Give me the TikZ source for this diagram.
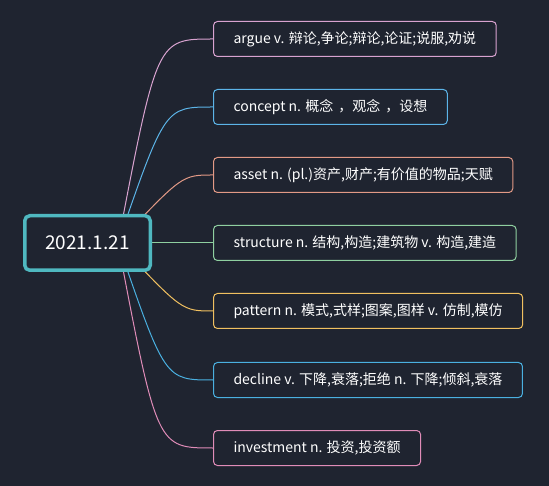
\documentclass[tikz,border=0pt]{standalone}
\usepackage{fontspec}
\setmainfont{Noto Sans CJK SC}
\usepackage{tikz}
\usetikzlibrary{positioning}
\definecolor{bg}{HTML}{1F2430}
\definecolor{cargue}{HTML}{D9A3D0}
\definecolor{cconcept}{HTML}{5CB4E8}
\definecolor{casset}{HTML}{E39A86}
\definecolor{cstruct}{HTML}{8FD0A0}
\definecolor{cpattern}{HTML}{F0C060}
\definecolor{cdecline}{HTML}{4AB0E0}
\definecolor{cinvest}{HTML}{E08CB8}
\definecolor{croot}{HTML}{4FB8C0}

\begin{document}
\begin{tikzpicture}[x=1pt,y=-1pt,
                    word/.style={draw,fill=bg,rounded corners=4pt,anchor=west,line width=1pt,
                                 minimum height=35pt,inner xsep=20pt,text=white,
                                 font=\fontsize{14}{16}\selectfont},
                    root/.style={draw=croot,fill=bg,rounded corners=5pt,line width=3.5pt,
                                 minimum width=125.5pt,minimum height=54.5pt,text=white,
                                 font=\fontsize{19}{22}\selectfont},
                    branch/.style={line width=1pt}]
  \fill[bg] (0,0) rectangle (549,486);
  \useasboundingbox (0,0) rectangle (549,486);
  \node[word,draw=cargue]   (argue)     at (213,39)  {argue v. 辩论,争论;辩论,论证;说服,劝说};
  \node[word,draw=cconcept] (concept)   at (213,107) {concept n. 概念\hspace{5pt}，观念\hspace{5pt}，设想};
  \node[word,draw=casset]   (asset)     at (213,175) {asset n. (pl.)资产,财产;有价值的物品;天赋};
  \node[word,draw=cstruct]  (structure) at (213,243) {structure n. 结构,构造;建筑物 v. 构造,建造};
  \node[word,draw=cpattern] (pattern)   at (213,311) {pattern n. 模式,式样;图案,图样 v. 仿制,模仿};
  \node[word,draw=cdecline] (decline)   at (213,380) {decline v. 下降,衰落;拒绝 n. 下降;倾斜,衰落};
  \node[word,draw=cinvest]  (invest)    at (213,448) {investment n. 投资,投资额};
  \coordinate (hub) at (118,243);
  \draw[branch,cargue]   (hub) .. controls (157,39)  .. (argue.west);
  \draw[branch,cconcept] (hub) .. controls (165,107) .. (concept.west);
  \draw[branch,casset]   (hub) .. controls (182,175) .. (asset.west);
  \draw[branch,cstruct]  (hub) -- (structure.west);
  \draw[branch,cpattern] (hub) .. controls (182,311) .. (pattern.west);
  \draw[branch,cdecline] (hub) .. controls (165,380) .. (decline.west);
  \draw[branch,cinvest]  (hub) .. controls (157,448) .. (invest.west);
  \node[root] (day) at (87.5,243) {2021.1.21};
\end{tikzpicture}
\end{document}
